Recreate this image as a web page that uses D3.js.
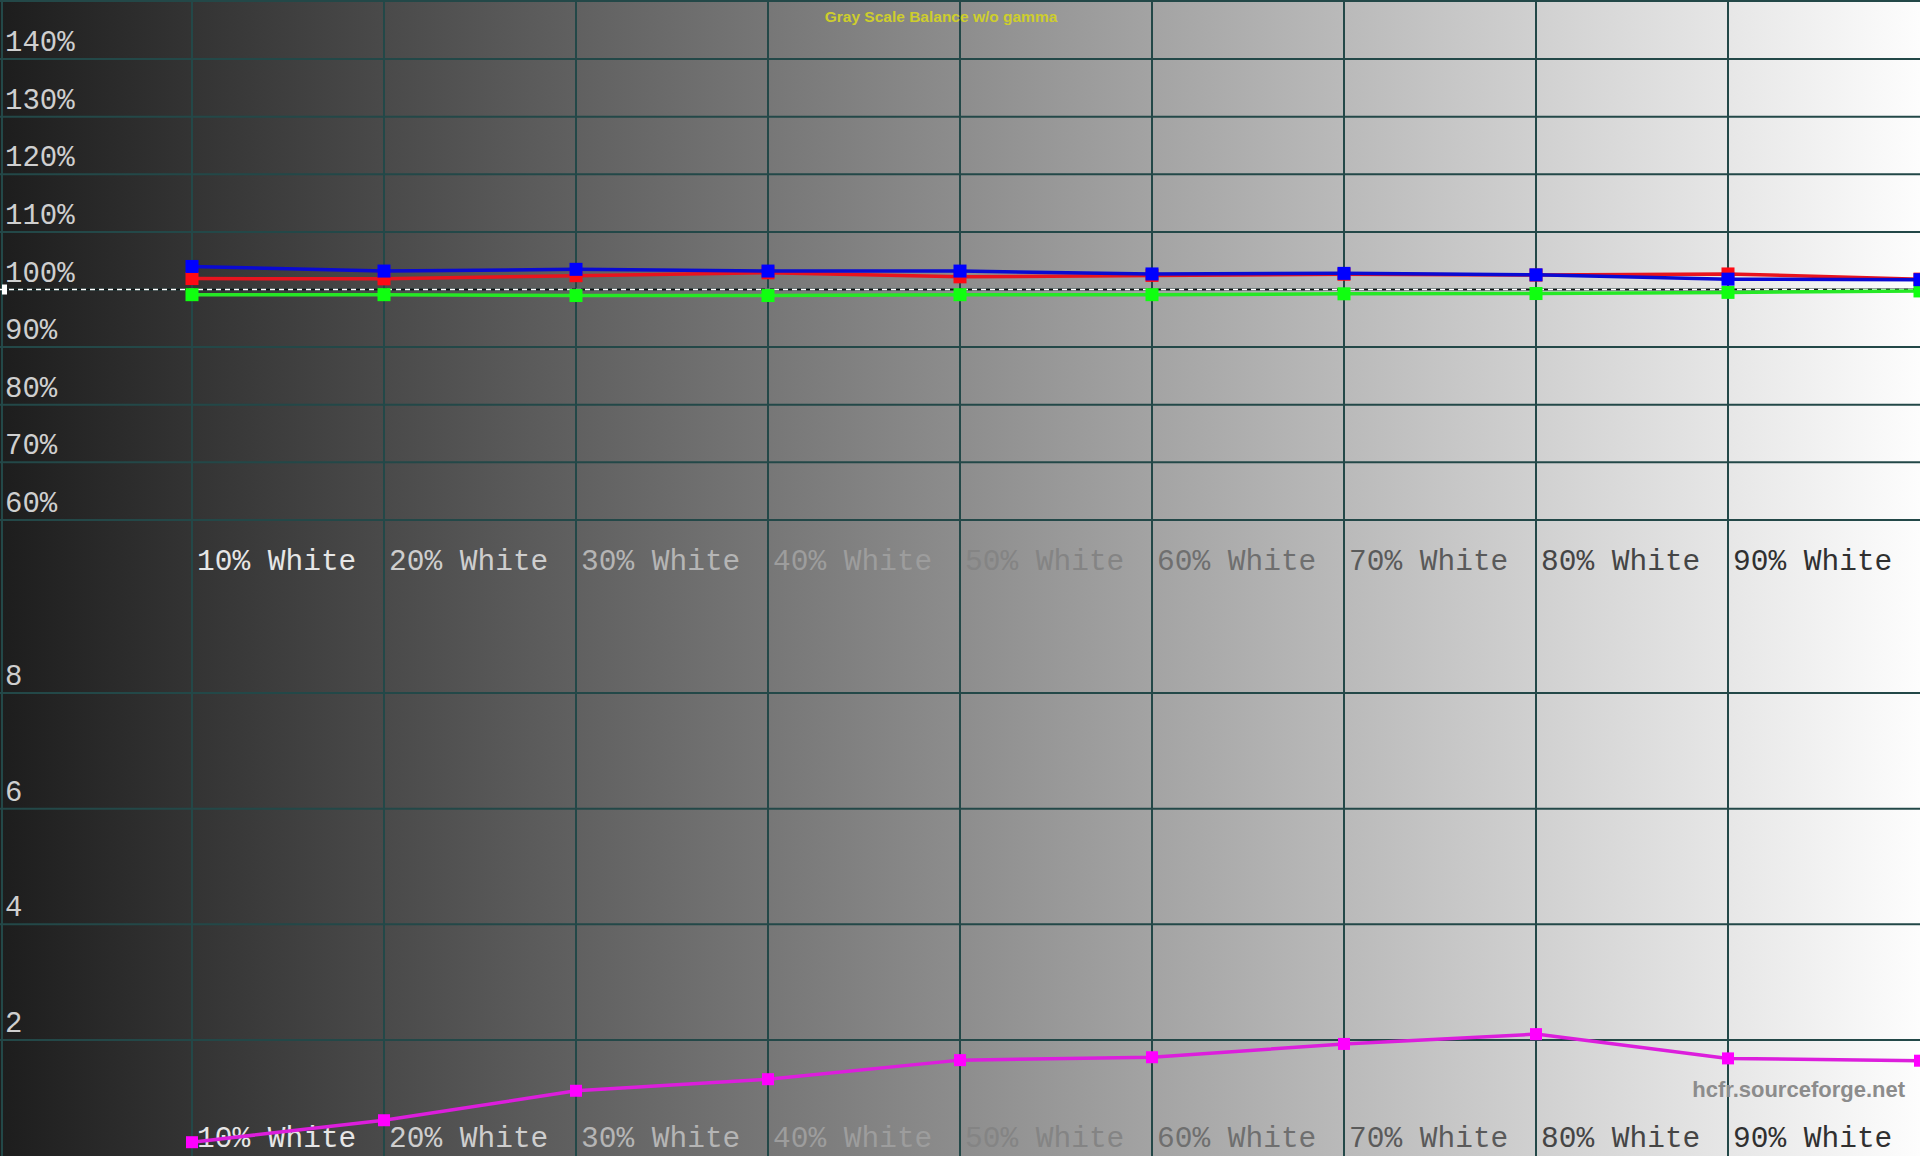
<!DOCTYPE html>
<html>
<head>
<meta charset="utf-8">
<script src="https://cdn.jsdelivr.net/npm/d3@7"></script>
<style>
  html, body { margin: 0; padding: 0; background: #000; overflow: hidden; }
  svg { display: block; }
</style>
</head>
<body>
<svg id="chart" width="1920" height="1156"></svg>
<script>
// ---- data ----
const title = "Gray Scale Balance w/o gamma";
const watermark = "hcfr.sourceforge.net";
const categories = ["10% White", "20% White", "30% White", "40% White", "50% White",
                    "60% White", "70% White", "80% White", "90% White"];
const levels = [10, 20, 30, 40, 50, 60, 70, 80, 90, 100];
const redValues   = [101.9, 101.85, 102.4, 102.9, 102.2, 102.45, 102.65, 102.5, 102.7, 101.8];
const greenValues = [99.1, 99.1, 98.95, 98.95, 99.1, 99.1, 99.25, 99.3, 99.5, 99.75];
const blueValues  = [104.0, 103.2, 103.5, 103.2, 103.2, 102.7, 102.8, 102.55, 101.8, 101.7];
const deltaEValues = [0.23, 0.61, 1.12, 1.32, 1.65, 1.70, 1.93, 2.10, 1.68, 1.64];
const topTicks = [60, 70, 80, 90, 100, 110, 120, 130, 140];
const topTickLabels = ["60%", "70%", "80%", "90%", "100%", "110%", "120%", "130%", "140%"];
const bottomTicks = [2, 4, 6, 8];
const bottomTickLabels = ["2", "4", "6", "8"];
const referenceLevel = 100;

// ---- layout ----
const W = 1920, H = 1156;
const svg = d3.select("#chart");
const gridColor = "#234848";
const monoFont = "'Liberation Mono', 'Courier New', monospace";

const x = d3.scaleLinear().domain([0, 100]).range([0, W]);
const yTop = d3.scaleLinear().domain([50, 150]).range([577.5, 1.5]);
const yBot = d3.scaleLinear().domain([0, 10]).range([1155.5, 577.5]);

// background gradient
const defs = svg.append("defs");
const grad = defs.append("linearGradient").attr("id", "bg")
  .attr("x1", "0%").attr("x2", "100%").attr("y1", "0%").attr("y2", "0%");
grad.append("stop").attr("offset", "0%").attr("stop-color", "#1d1d1d");
grad.append("stop").attr("offset", "100%").attr("stop-color", "#fdfdfd");
svg.append("rect").attr("width", W).attr("height", H).attr("fill", "url(#bg)");

// grid
const grid = svg.append("g").attr("stroke", gridColor).attr("stroke-width", 2);
grid.selectAll("line.v").data(levels.slice(0, 9)).join("line")
  .attr("x1", d => x(d)).attr("x2", d => x(d)).attr("y1", 0).attr("y2", H);
grid.selectAll("line.ht").data(topTicks).join("line")
  .attr("x1", 0).attr("x2", W).attr("y1", d => yTop(d)).attr("y2", d => yTop(d));
grid.selectAll("line.hb").data(bottomTicks).join("line")
  .attr("x1", 0).attr("x2", W).attr("y1", d => yBot(d)).attr("y2", d => yBot(d));
grid.append("line").attr("x1", 0).attr("x2", W).attr("y1", 1).attr("y2", 1);
grid.append("line").attr("x1", 2).attr("x2", 2).attr("y1", 0).attr("y2", H);

// y labels
const yl = svg.append("g").attr("font-family", monoFont).attr("font-size", 29)
  .attr("fill", "#cfcfcf");
yl.selectAll("text.t").data(topTicks).join("text")
  .attr("x", 5).attr("y", d => yTop(d) - 8)
  .text((d, i) => topTickLabels[i]);
yl.selectAll("text.b").data(bottomTicks).join("text")
  .attr("x", 5).attr("y", d => yBot(d) - 8)
  .text((d, i) => bottomTickLabels[i]);

// x labels (top and bottom)
const labelColor = d3.scaleLinear().domain([0, 4, categories.length - 1])
  .range(["#e6e6e6", "#848484", "#303030"]);
const xl = svg.append("g").attr("font-family", monoFont).attr("font-size", 29.5);
[570, 1147].forEach(by => {
  xl.append("g").selectAll("text").data(categories).join("text")
    .attr("x", (d, i) => x(levels[i]) + 5).attr("y", by)
    .attr("fill", (d, i) => labelColor(i))
    .text(d => d);
});

// reference dashed line at 100%
svg.append("line").attr("x1", 0).attr("x2", W)
  .attr("y1", yTop(referenceLevel)).attr("y2", yTop(referenceLevel))
  .attr("stroke", "#111").attr("stroke-width", 1.5);
svg.append("line").attr("x1", 0).attr("x2", W)
  .attr("y1", yTop(referenceLevel)).attr("y2", yTop(referenceLevel))
  .attr("stroke", "#fff").attr("stroke-width", 1.5).attr("stroke-dasharray", "5,4");
svg.append("rect").attr("x", 2).attr("y", yTop(referenceLevel) - 5)
  .attr("width", 5).attr("height", 10).attr("fill", "#fff");

// series
function drawSeries(values, scale, lineColor, markerColor, size) {
  const pts = values.map((v, i) => [x(levels[i]), scale(v)]);
  svg.append("path").datum(pts)
    .attr("d", d3.line())
    .attr("fill", "none").attr("stroke", lineColor).attr("stroke-width", 3.5);
  svg.append("g").selectAll("rect").data(pts).join("rect")
    .attr("x", d => d[0] - size / 2).attr("y", d => d[1] - size / 2)
    .attr("width", size).attr("height", size).attr("fill", markerColor);
}
drawSeries(redValues, yTop, "#e8141e", "#ff0a14", 13);
drawSeries(greenValues, yTop, "#26e826", "#10ff10", 13);
drawSeries(blueValues, yTop, "#0a0ad2", "#0000ff", 13);
drawSeries(deltaEValues, yBot, "#dc1edc", "#ff00ff", 12);

// title
svg.append("text").attr("x", 941).attr("y", 22).attr("text-anchor", "middle")
  .attr("font-family", "'Liberation Sans', Arial, sans-serif").attr("font-size", 15.5)
  .attr("font-weight", "bold")
  .attr("fill", "#cece2c").text(title);

// watermark
svg.append("text").attr("x", 1905).attr("y", 1097).attr("text-anchor", "end")
  .attr("font-family", "'Liberation Sans Narrow', 'Liberation Sans', Arial, sans-serif")
  .attr("font-size", 22).attr("font-weight", "bold")
  .attr("fill", "#8c8c8c").text(watermark);
</script>
</body>
</html>
